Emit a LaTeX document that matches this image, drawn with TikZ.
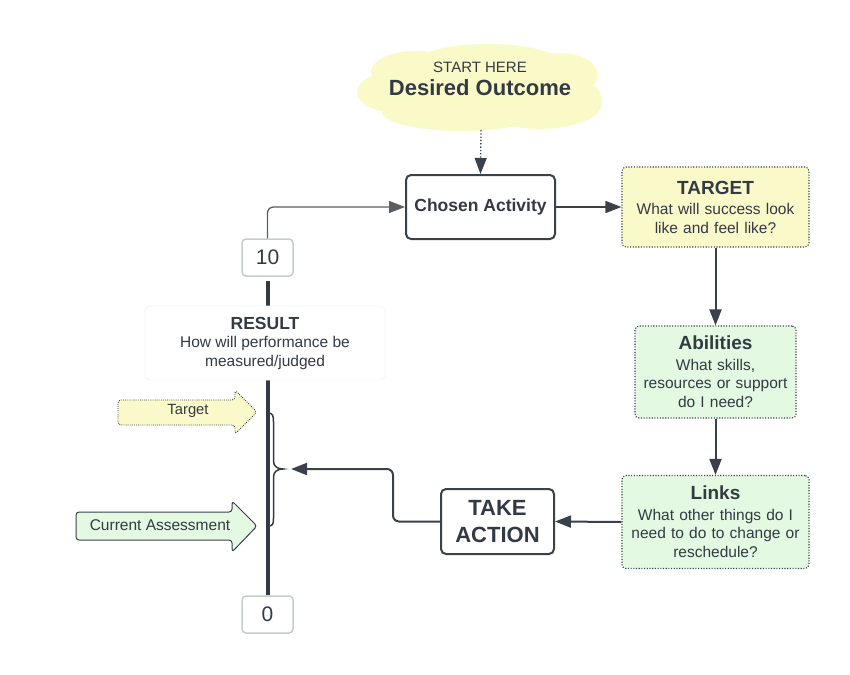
\documentclass[tikz,border=0pt]{standalone}
\usepackage{fontspec}
\setmainfont{Liberation Sans}
\usetikzlibrary{arrows.meta}
\definecolor{ink}{HTML}{333A44}
\definecolor{edge}{HTML}{3A414A}
\definecolor{ylw}{HTML}{FAF9CA}
\definecolor{grn}{HTML}{E3F9E1}
\definecolor{gbord}{HTML}{C5CEC6}
\definecolor{faint}{HTML}{F4F4F4}
\definecolor{cloudc}{HTML}{FAFAC8}
\begin{document}
\begin{tikzpicture}[x=1pt,y=-1pt,
  every node/.style={text=ink},
  tip/.style={-{Triangle[length=16pt,width=12pt]}},
  solidbox/.style={draw=edge, line width=2pt, rounded corners=5pt, fill=white, align=center, inner sep=0pt},
  dotbox/.style={draw=edge, line width=1.1pt, dash pattern=on 1.1pt off 1.6pt, rounded corners=4pt, align=center, inner sep=0pt},
  numbox/.style={draw=gbord, line width=1.5pt, rounded corners=4pt, fill=white, inner sep=0pt, minimum width=51pt, minimum height=37pt, font=\fontsize{21}{24}\selectfont},
  conn/.style={draw=edge, line width=2pt, tip},
  thinconn/.style={draw=edge, line width=1.3pt, tip},
  body/.style={font=\fontsize{15.5}{18.8}\selectfont},
]
\useasboundingbox (0,0) rectangle (850,674);

% cloud
\begin{scope}[fill=cloudc]
  \fill (480,88) ellipse [x radius=102, y radius=32];
  \fill (415,72) ellipse [x radius=44, y radius=21];
  \fill (488,64) ellipse [x radius=74, y radius=20];
  \fill (560,75) ellipse [x radius=38, y radius=22];
  \fill (393,92) ellipse [x radius=36, y radius=20];
  \fill (574,101) ellipse [x radius=28, y radius=22];
  \fill (462,112) ellipse [x radius=80, y radius=19];
  \fill (540,112) ellipse [x radius=50, y radius=17];
\end{scope}
\node[align=center, inner sep=0pt] (cloud) at (480,78.5)
  {{\fontsize{15}{18}\selectfont START HERE}\\[6pt]{\fontsize{22}{24}\selectfont\bfseries Desired Outcome}};
\coordinate (cloudbot) at (481,130);

% nodes
\node[solidbox, minimum width=149pt, minimum height=64pt, font=\fontsize{17.5}{20}\selectfont\bfseries] (chosen) at (480.5,207) {Chosen Activity};

\node[dotbox, fill=ylw, minimum width=187pt, minimum height=80pt, text width=180pt, body] (target) at (715.5,207)
  {{\fontsize{19}{22}\selectfont\bfseries TARGET}\\[1.5pt]What will success look\\like and feel like?};

\node[dotbox, fill=grn, minimum width=161pt, minimum height=92pt, text width=155pt, body] (abil) at (715.5,372)
  {{\fontsize{19}{22}\selectfont\bfseries Abilities}\\[1.5pt]What skills,\\resources or support\\do I need?};

\node[dotbox, fill=grn, minimum width=187pt, minimum height=93pt, text width=180pt, body] (links) at (715.5,522)
  {{\fontsize{19}{22}\selectfont\bfseries Links}\\[1.5pt]What other things do I\\need to do to change or\\reschedule?};

\node[solidbox, minimum width=113pt, minimum height=65pt, font=\fontsize{22}{27}\selectfont\bfseries] (take) at (497.5,521.5) {TAKE\\ACTION};

\node[numbox] (ten) at (267.5,257.5) {10};
\node[numbox] (zero) at (267.5,614.5) {0};

% thick scale line
\draw[draw=ink, line width=4pt] ([yshift=-4pt]ten.south) -- (zero.north);

\node[draw=faint, line width=0.8pt, rounded corners=5pt, fill=white, minimum width=240pt, minimum height=74pt, align=center, inner sep=0pt, font=\fontsize{15.5}{18.5}\selectfont] (result) at (265,343)
  {{\fontsize{17.5}{20}\selectfont\bfseries RESULT}\\[0pt]How will performance be\\measured/judged};

% block arrows
\draw[draw=edge, line width=0.9pt, dash pattern=on 0.9pt off 1.2pt, fill=ylw, rounded corners=3pt]
  (118,400) -- (235,400) -- (235,390) -- (257,412) -- (235,434) -- (235,425) -- (118,425) -- cycle;
\node[font=\fontsize{14.8}{17}\selectfont] (targetlbl) at (188,411) {Target};

\draw[draw=edge, line width=1pt, fill=grn, rounded corners=3pt]
  (76,512) -- (232,512) -- (232,501) -- (257,526) -- (232,552) -- (232,540) -- (76,540) -- cycle;
\node[font=\fontsize{15.5}{18}\selectfont] (currlbl) at (160,525) {Current Assessment};

% brace
\coordinate (bracetip) at (283,469);
\draw[draw=ink, line width=1.5pt]
  (268,413) .. controls (273,413) and (273.5,416) .. (273.5,422) -- (273.5,461)
  .. controls (273.5,466) and (277,469) .. (bracetip)
  .. controls (277,469) and (273.5,472) .. (273.5,477) -- (273.5,518)
  .. controls (273.5,524) and (273,526) .. (268,526);

% connectors
\draw[thinconn, dotted, line width=1.3pt] (cloudbot) -- (chosen.north);
\draw[thinconn, line width=1.5pt] (chosen.east) -- (target.west);
\draw[conn] (target.south) -- (abil.north);
\draw[conn] (abil.south) -- (links.north);
\draw[conn] (links.west) -- (take.east);
\draw[conn, rounded corners=6pt, shorten >=8pt] (take.west) -| (393,469) -- (bracetip);
\draw[draw=edge!85, line width=1.3pt, tip, rounded corners=6pt] (ten.north) |- (chosen.west);
\end{tikzpicture}
\end{document}
